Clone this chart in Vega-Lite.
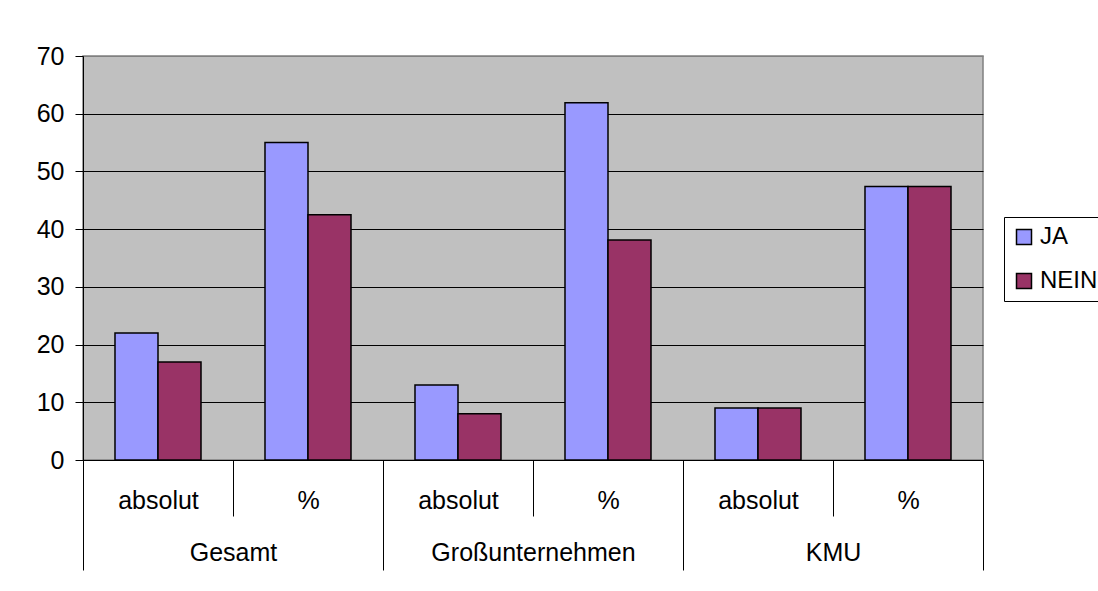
{
  "$schema": "https://vega.github.io/schema/vega-lite/v6.json",
  "width": 900,
  "height": 404,
  "autosize": {"type": "none"},
  "padding": {"left": 83, "top": 56, "right": 115, "bottom": 131},
  "background": "white",
  "config": {
    "font": "Liberation Sans",
    "view": {"fill": "#C0C0C0", "stroke": "#808080", "strokeWidth": 1.5},
    "axis": {"labelColor": "black", "labelFontSize": 25, "labelFont": "Liberation Sans", "labelLimit": 0, "domainColor": "black", "tickColor": "black", "title": null}
  },
  "data": {
    "values": [
      {"Spalte": "Gesamt|absolut", "Gruppe": "Gesamt", "Antwort": "JA", "Wert": 22},
      {"Spalte": "Gesamt|absolut", "Gruppe": "Gesamt", "Antwort": "NEIN", "Wert": 17},
      {"Spalte": "Gesamt|%", "Gruppe": "Gesamt", "Antwort": "JA", "Wert": 55},
      {"Spalte": "Gesamt|%", "Gruppe": "Gesamt", "Antwort": "NEIN", "Wert": 42.5},
      {"Spalte": "Großunternehmen|absolut", "Gruppe": "Großunternehmen", "Antwort": "JA", "Wert": 13},
      {"Spalte": "Großunternehmen|absolut", "Gruppe": "Großunternehmen", "Antwort": "NEIN", "Wert": 8},
      {"Spalte": "Großunternehmen|%", "Gruppe": "Großunternehmen", "Antwort": "JA", "Wert": 61.9},
      {"Spalte": "Großunternehmen|%", "Gruppe": "Großunternehmen", "Antwort": "NEIN", "Wert": 38.1},
      {"Spalte": "KMU|absolut", "Gruppe": "KMU", "Antwort": "JA", "Wert": 9},
      {"Spalte": "KMU|absolut", "Gruppe": "KMU", "Antwort": "NEIN", "Wert": 9},
      {"Spalte": "KMU|%", "Gruppe": "KMU", "Antwort": "JA", "Wert": 47.4},
      {"Spalte": "KMU|%", "Gruppe": "KMU", "Antwort": "NEIN", "Wert": 47.4}
    ]
  },
  "layer": [
    {
      "mark": {"type": "bar", "stroke": "black", "strokeWidth": 1.5},
      "encoding": {
        "x": {
          "field": "Spalte",
          "type": "nominal",
          "sort": null,
          "scale": {"paddingInner": 0, "paddingOuter": 0},
          "axis": {
            "orient": "bottom",
            "labelExpr": "split(datum.label, '|')[1]",
            "labelAngle": 0,
            "tickBand": "extent",
            "tickSize": 56,
            "labelPadding": -28,
            "grid": false
          }
        },
        "xOffset": {
          "field": "Antwort",
          "sort": ["JA", "NEIN"],
          "scale": {"paddingInner": 0, "paddingOuter": 0.744}
        },
        "y": {
          "field": "Wert",
          "type": "quantitative",
          "scale": {"domain": [0, 70], "nice": false},
          "axis": {
            "values": [0, 10, 20, 30, 40, 50, 60, 70],
            "grid": true,
            "gridColor": {"condition": {"test": "datum.value == 70", "value": "#808080"}, "value": "black"},
            "gridOpacity": 1,
            "tickSize": 8,
            "labelPadding": 11
          }
        },
        "color": {
          "field": "Antwort",
          "type": "nominal",
          "scale": {"domain": ["JA", "NEIN"], "range": ["#9999FF", "#993366"]},
          "legend": {
            "orient": "none",
            "legendX": 921,
            "legendY": 161,
            "title": null,
            "strokeColor": "black",
            "fillColor": "white",
            "padding": 8,
            "symbolType": "square",
            "symbolSize": 225,
            "symbolStrokeColor": "black",
            "symbolStrokeWidth": 1.5,
            "symbolOpacity": 1,
            "labelFontSize": 24,
            "labelFont": "Liberation Sans",
            "labelColor": "black",
            "labelOffset": 4,
            "rowPadding": 20
          }
        }
      }
    },
    {
      "mark": {"type": "text", "opacity": 0},
      "encoding": {
        "x": {
          "field": "Gruppe",
          "type": "nominal",
          "sort": ["Gesamt", "Großunternehmen", "KMU"],
          "scale": {"paddingInner": 0, "paddingOuter": 0},
          "axis": {
            "orient": "bottom",
            "labelAngle": 0,
            "tickBand": "extent",
            "tickSize": 110,
            "labelPadding": -30,
            "grid": false
          }
        }
      }
    }
  ],
  "resolve": {"scale": {"x": "independent"}, "axis": {"x": "independent"}}
}
